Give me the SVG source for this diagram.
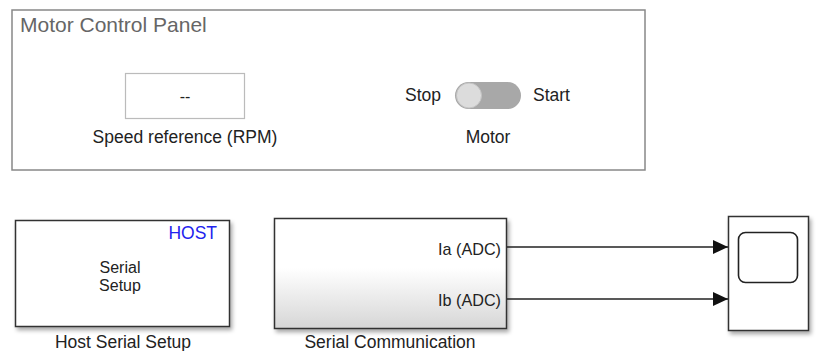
<svg xmlns="http://www.w3.org/2000/svg" width="817" height="351" viewBox="0 0 817 351">
<defs>
<style>
text{font-family:"Liberation Sans",Arial,sans-serif;font-size:17.5px;fill:#222}
.blk{stroke:#333;stroke-width:1.5}
.wire{stroke:#222;stroke-width:1.3;fill:none}
</style>
<linearGradient id="grad" x1="0" y1="0" x2="0" y2="1">
<stop offset="0" stop-color="#ffffff"/>
<stop offset="0.45" stop-color="#ffffff"/>
<stop offset="1" stop-color="#d6d6d6"/>
</linearGradient>
<filter id="sh" x="-10%" y="-10%" width="130%" height="130%">
<feGaussianBlur in="SourceAlpha" stdDeviation="2"/>
<feOffset dx="2" dy="3" result="b"/>
<feComponentTransfer><feFuncA type="linear" slope="0.35"/></feComponentTransfer>
<feMerge><feMergeNode/><feMergeNode in="SourceGraphic"/></feMerge>
</filter>
<marker id="arr" markerWidth="16" markerHeight="14" refX="15" refY="7" orient="auto" markerUnits="userSpaceOnUse">
<path d="M0,0 L15,7 L0,14 Z" fill="#111"/>
</marker>
</defs>
<rect width="817" height="351" fill="#fff"/>

<g id="panel">
<rect x="12" y="10" width="633" height="160" fill="#fff" stroke="#888" stroke-width="1.5"/>
<text x="20" y="31.5" style="font-size:21px;fill:#666">Motor Control Panel</text>
</g>

<g id="speed-ref">
<rect x="125.5" y="73.5" width="119" height="45" fill="#fff" stroke="#bbb" stroke-width="1.2"/>
<text x="185" y="102" text-anchor="middle" style="font-size:16px">--</text>
<text x="185" y="142.5" text-anchor="middle">Speed reference (RPM)</text>
</g>

<g id="motor-switch">
<text x="405" y="101">Stop</text>
<rect x="455" y="82" width="66" height="27" rx="13.5" fill="#a8a8a8"/>
<circle cx="469" cy="95.5" r="12.5" fill="#dcdcdc" stroke="#c4c4c4" stroke-width="1"/>
<text x="533" y="101">Start</text>
<text x="488" y="143" text-anchor="middle">Motor</text>
</g>

<g id="host-serial-setup">
<rect class="blk" x="15.5" y="220.5" width="214" height="106" fill="#fff" filter="url(#sh)"/>
<text x="217" y="239" text-anchor="end" style="fill:#2222ee">HOST</text>
<text x="120" y="273" text-anchor="middle" style="font-size:16px">Serial</text>
<text x="120" y="291" text-anchor="middle" style="font-size:16px">Setup</text>
<text x="123" y="348" text-anchor="middle">Host Serial Setup</text>
</g>

<g id="serial-communication">
<rect class="blk" x="274.5" y="218.5" width="232" height="110" fill="url(#grad)" filter="url(#sh)"/>
<text x="501" y="254.5" text-anchor="end" style="font-size:16.2px">Ia (ADC)</text>
<text x="501" y="306" text-anchor="end" style="font-size:16.2px">Ib (ADC)</text>
<text x="390" y="348" text-anchor="middle">Serial Communication</text>
</g>

<g id="scope">
<rect class="blk" x="728.5" y="216.5" width="80" height="114" fill="#fff" filter="url(#sh)"/>
<rect x="738.5" y="232.5" width="59" height="50" rx="7" fill="#fff" stroke="#222" stroke-width="1.6"/>
</g>

<g id="connectors">
<path class="wire" d="M507,247 H728" marker-end="url(#arr)"/>
<path class="wire" d="M507,299 H728" marker-end="url(#arr)"/>
</g>
</svg>
